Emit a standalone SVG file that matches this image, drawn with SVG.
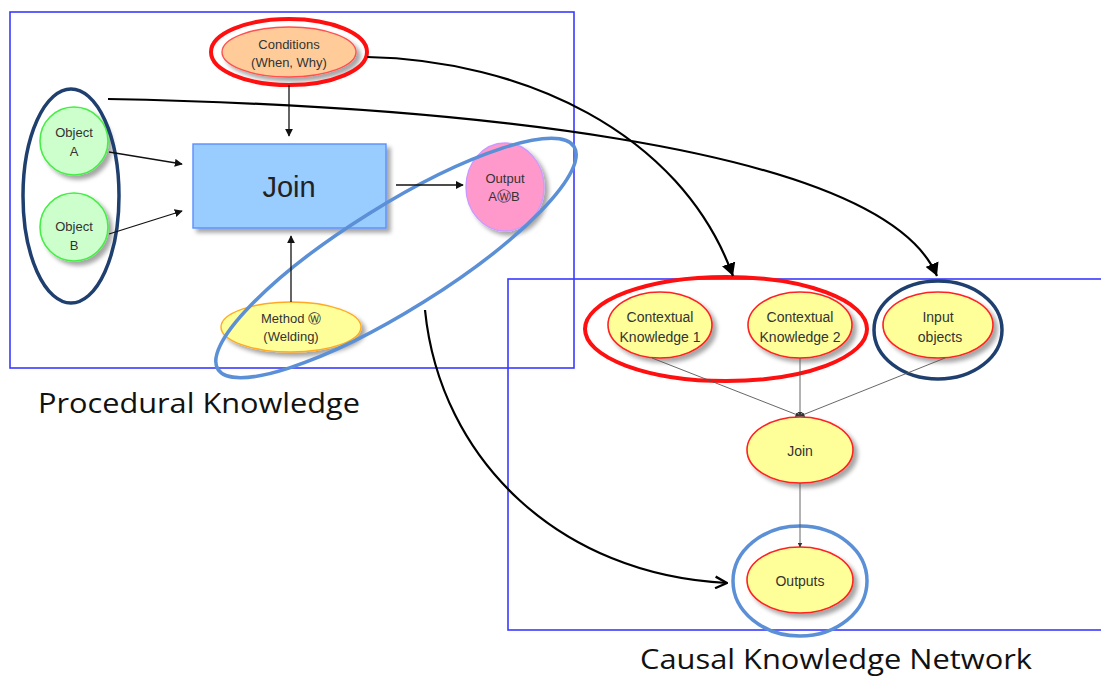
<svg xmlns="http://www.w3.org/2000/svg" width="1101" height="677" viewBox="0 0 1101 677">
  <style>
    .frame { fill: none; stroke: #3a3aff; stroke-width: 1.6; }
    .t { font-family: "Liberation Sans", Arial, sans-serif; font-size: 13px; fill: #333; text-anchor: middle; }
    .tl { font-family: "Liberation Sans", Arial, sans-serif; font-size: 14px; fill: #333; text-anchor: middle; }
    .big { font-family: "Open Sans", "Noto Sans", sans-serif; font-size: 28px; fill: #111; }
    .yel { fill: #ffff99; stroke: #ff2020; stroke-width: 1.6; }
    .grn { fill: #ccffcc; stroke: #44ee44; stroke-width: 1.6; }
    .conn { fill: none; stroke: #111; stroke-width: 1.3; }
    .thin { fill: none; stroke: #555; stroke-width: 0.9; }
    .curve { fill: none; stroke: #000; stroke-width: 2.2; }
    .redring { fill: none; stroke: #ff1010; stroke-width: 4; }
    .navyring { fill: none; stroke: #1f3f6f; stroke-width: 3.5; }
    .bluering { fill: none; stroke: #5b8fd6; stroke-width: 3.5; }
  </style>
  <defs>
    <filter id="sh" x="-20%" y="-20%" width="150%" height="150%">
      <feDropShadow dx="4" dy="4" stdDeviation="2" flood-color="#000" flood-opacity="0.35"/>
    </filter>
    <marker id="ah" viewBox="0 0 10 10" refX="9" refY="5" markerWidth="8" markerHeight="8" orient="auto" markerUnits="userSpaceOnUse">
      <path d="M0,0 L10,5 L0,10 z" fill="#111"/>
    </marker>
    <marker id="ahs" viewBox="0 0 10 10" refX="9" refY="5" markerWidth="5" markerHeight="5" orient="auto" markerUnits="userSpaceOnUse">
      <path d="M0,0 L10,5 L0,10 z" fill="#333"/>
    </marker>
    <marker id="ahb" viewBox="0 0 12 12" refX="11" refY="6" markerWidth="14" markerHeight="14" orient="auto" markerUnits="userSpaceOnUse">
      <path d="M0,0 L11,6 L0,12 z" fill="#000"/>
    </marker>
    <marker id="aho" viewBox="0 0 12 12" refX="11" refY="6" markerWidth="14" markerHeight="14" orient="auto" markerUnits="userSpaceOnUse">
      <path d="M1,1 L11,6 L1,11" fill="none" stroke="#000" stroke-width="2"/>
    </marker>
  </defs>

  <rect width="1101" height="677" fill="#fff"/>

  <!-- frames -->
  <rect class="frame" x="10" y="12" width="564" height="356"/>
  <rect class="frame" x="508" y="279" width="600" height="351"/>

  <!-- procedural knowledge nodes -->
  <g id="conditions">
    <ellipse cx="289" cy="52" rx="67" ry="25" fill="#ffcc99" stroke="#ff5050" stroke-width="1.4" filter="url(#sh)"/>
    <text class="t" x="289" y="49">Conditions</text>
    <text class="t" x="289" y="67">(When, Why)</text>
  </g>
  <g id="join-box">
    <rect x="193" y="144" width="193" height="84" fill="#99ccff" stroke="#5b8fff" stroke-width="1.4" filter="url(#sh)"/>
    <text x="289" y="197" font-family="'Liberation Sans', Arial, sans-serif" font-size="29" fill="#222" text-anchor="middle">Join</text>
  </g>
  <g id="object-a">
    <circle cx="74" cy="141" r="34" class="grn" filter="url(#sh)"/>
    <text class="t" x="74" y="137">Object</text>
    <text class="t" x="74" y="156">A</text>
  </g>
  <g id="object-b">
    <circle cx="74" cy="227" r="34" class="grn" filter="url(#sh)"/>
    <text class="t" x="74" y="231">Object</text>
    <text class="t" x="74" y="250">B</text>
  </g>
  <g id="output-ab">
    <ellipse cx="505" cy="187" rx="39" ry="44" fill="#ff99cc" stroke="#cc99ff" stroke-width="1.4" filter="url(#sh)"/>
    <text class="t" x="505" y="183">Output</text>
    <text class="t" x="504" y="201">A<tspan font-size="14">Ⓦ</tspan>B</text>
  </g>
  <g id="method">
    <ellipse cx="291" cy="327" rx="70" ry="25" fill="#ffff99" stroke="#ffaa22" stroke-width="1.4" filter="url(#sh)"/>
    <text class="t" x="291" y="323">Method Ⓦ</text>
    <text class="t" x="291" y="341">(Welding)</text>
  </g>

  <!-- causal knowledge network nodes -->
  <g id="ck1">
    <ellipse cx="660" cy="325" rx="52" ry="33" class="yel" filter="url(#sh)"/>
    <text class="tl" x="660" y="322">Contextual</text>
    <text class="tl" x="660" y="342">Knowledge 1</text>
  </g>
  <g id="ck2">
    <ellipse cx="800" cy="325" rx="52" ry="33" class="yel" filter="url(#sh)"/>
    <text class="tl" x="800" y="322">Contextual</text>
    <text class="tl" x="800" y="342">Knowledge 2</text>
  </g>
  <g id="input-objects">
    <ellipse cx="938" cy="325" rx="55" ry="33" class="yel" filter="url(#sh)"/>
    <text class="tl" x="938" y="322">Input</text>
    <text class="tl" x="940" y="342">objects</text>
  </g>
  <g id="join-node">
    <ellipse cx="800" cy="450" rx="53" ry="33" class="yel" filter="url(#sh)"/>
    <text class="tl" x="800" y="456">Join</text>
  </g>
  <g id="outputs">
    <ellipse cx="800" cy="580" rx="53" ry="33" class="yel" filter="url(#sh)"/>
    <text class="tl" x="800" y="586">Outputs</text>
  </g>

  <!-- grouping rings -->
  <g id="rings">
    <ellipse class="redring" cx="289" cy="52" rx="78" ry="33"/>
    <ellipse class="navyring" cx="71" cy="196" rx="48" ry="107"/>
    <ellipse class="bluering" cx="396" cy="258" rx="210" ry="52" transform="rotate(-32 396 258)"/>
    <ellipse class="redring" cx="726" cy="329" rx="141" ry="52"/>
    <ellipse class="navyring" cx="938" cy="330" rx="64" ry="49"/>
    <ellipse class="bluering" cx="800" cy="581" rx="67" ry="55"/>
  </g>

  <!-- connectors -->
  <g id="connectors">
    <line class="conn" x1="289" y1="85" x2="289" y2="136" marker-end="url(#ah)"/>
    <line class="conn" x1="109" y1="152" x2="182" y2="164" marker-end="url(#ah)"/>
    <line class="conn" x1="109" y1="234" x2="182" y2="211" marker-end="url(#ah)"/>
    <line class="conn" x1="396" y1="185" x2="463" y2="185" marker-end="url(#ah)"/>
    <line class="conn" x1="291" y1="302" x2="291" y2="236" marker-end="url(#ah)"/>

    <line class="thin" x1="652" y1="358" x2="800" y2="416" marker-end="url(#ahs)"/>
    <line class="thin" x1="800" y1="358" x2="800" y2="416" marker-end="url(#ahs)"/>
    <line class="thin" x1="945" y1="358" x2="800" y2="416" marker-end="url(#ahs)"/>
    <line class="thin" x1="800" y1="483" x2="800" y2="547" marker-end="url(#ahs)"/>

    <path class="curve" d="M367,57 C520,60 680,130 733,276" marker-end="url(#ahb)"/>
    <path class="curve" d="M108,99 C420,105 880,140 937,276" marker-end="url(#ahb)"/>
    <path class="curve" d="M425,310 C440,460 560,575 727,583" marker-end="url(#aho)"/>
  </g>

  <!-- section titles -->
  <text class="big" x="38" y="413" textLength="322" lengthAdjust="spacingAndGlyphs">Procedural Knowledge</text>
  <text class="big" x="640" y="669" textLength="392" lengthAdjust="spacingAndGlyphs">Causal Knowledge Network</text>
</svg>
